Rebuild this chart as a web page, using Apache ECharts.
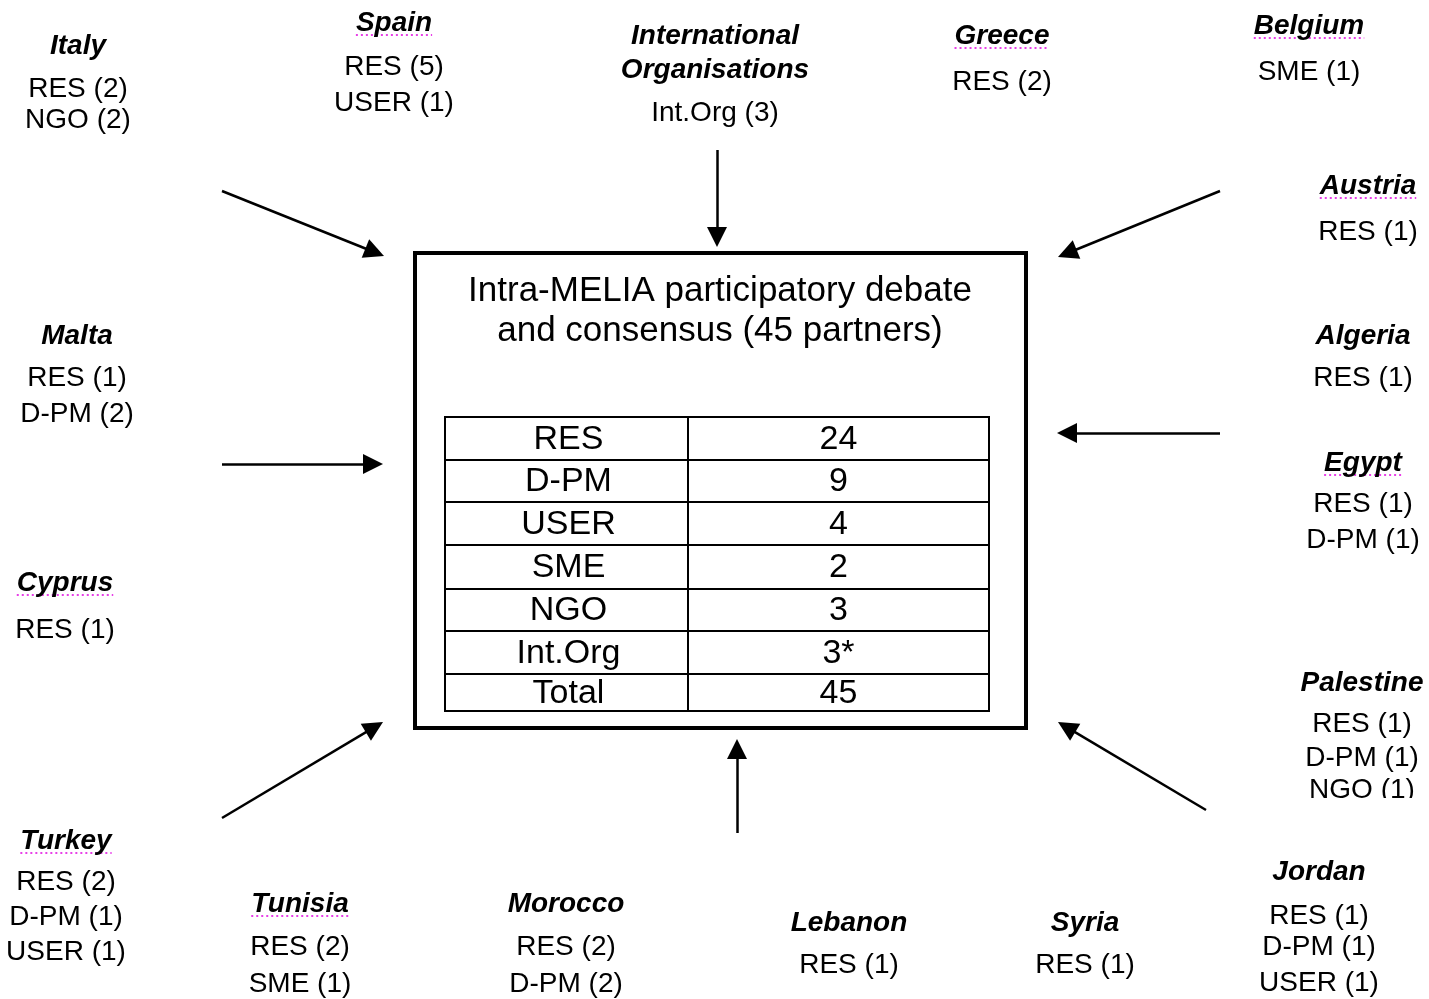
<!DOCTYPE html>
<html><head><meta charset="utf-8">
<script src="https://cdn.jsdelivr.net/npm/echarts@6/dist/echarts.min.js"></script>
<style>html,body{margin:0;padding:0;background:#fff}#c{width:1429px;height:999px}</style>
</head><body><div id="c"></div>
<script>
// ---------------- DATA ----------------
const boxTitle = ['Intra-MELIA participatory debate', 'and consensus (45 partners)'];
const tableCategories = ['RES', 'D-PM', 'USER', 'SME', 'NGO', 'Int.Org', 'Total'];
const tableValues = ['24', '9', '4', '2', '3', '3*', '45'];
const countries = ['Italy', 'Spain', 'International\nOrganisations', 'Greece', 'Belgium', 'Austria',
  'Malta', 'Algeria', 'Egypt', 'Cyprus', 'Palestine', 'Turkey', 'Tunisia', 'Morocco', 'Lebanon', 'Syria', 'Jordan'];
const partners = [
  ['RES (2)', 'NGO (2)'],
  ['RES (5)', 'USER (1)'],
  ['Int.Org (3)'],
  ['RES (2)'],
  ['SME (1)'],
  ['RES (1)'],
  ['RES (1)', 'D-PM (2)'],
  ['RES (1)'],
  ['RES (1)', 'D-PM (1)'],
  ['RES (1)'],
  ['RES (1)', 'D-PM (1)', 'NGO (1)'],
  ['RES (2)', 'D-PM (1)', 'USER (1)'],
  ['RES (2)', 'SME (1)'],
  ['RES (2)', 'D-PM (2)'],
  ['RES (1)'],
  ['RES (1)'],
  ['RES (1)', 'D-PM (1)', 'USER (1)']
];

// ---------------- LAYOUT (positions only) ----------------
const countryLayout = [
  {x: 78, name: [46], lines: [89, 120]},
  {x: 394, name: [23], lines: [67, 103], ul: true},
  {x: 715, name: [36, 70], lines: [113]},
  {x: 1002, name: [36], lines: [82], ul: true},
  {x: 1309, name: [26], lines: [72], ul: true},
  {x: 1368, name: [186], lines: [232], ul: true},
  {x: 77, name: [336], lines: [378, 414]},
  {x: 1363, name: [336], lines: [378]},
  {x: 1363, name: [463], lines: [504, 540], ul: true},
  {x: 65, name: [583], lines: [630], ul: true},
  {x: 1362, name: [683], lines: [724, 758, 790]},
  {x: 66, name: [841], lines: [882, 917, 952], ul: true},
  {x: 300, name: [904], lines: [947, 984], ul: true},
  {x: 566, name: [904], lines: [947, 984]},
  {x: 849, name: [923], lines: [965]},
  {x: 1085, name: [923], lines: [965]},
  {x: 1319, name: [872], lines: [916, 947, 983]}
];
const arrowLayout = [
  [[222, 191], [384, 256]],
  [[717, 150], [717, 247]],
  [[1220, 191], [1058, 257]],
  [[222, 464], [383, 464]],
  [[1220, 433], [1057, 433]],
  [[222, 818], [383, 722]],
  [[737, 833], [737, 739]],
  [[1206, 810], [1058, 722]]
];
const boxRect = {x0: 415, y0: 253, x1: 1026, y1: 728};
const titleLayout = {x: 720, y: [291, 331]};
const tableCols = [445, 688, 989];
const tableRows = [417, 460, 502, 545, 589, 631, 674, 711];
const clipBand = {x0: 1290, y0: 798, x1: 1429, y1: 808};

const FAMILY = '"Liberation Sans", Arial, sans-serif';
const NAME_FONT = 'italic bold 28px ' + FAMILY;
const BODY_FONT = '28px ' + FAMILY;
const TITLE_FONT = '35px ' + FAMILY;
const TABLE_FONT = '34px ' + FAMILY;
const HEAD = 20;

// ---------------- BUILD ----------------
const textData = [], ulData = [];
const measureCtx = document.createElement('canvas').getContext('2d');
measureCtx.font = NAME_FONT;
countries.forEach((c, i) => {
  const L = countryLayout[i];
  c.split('\n').forEach((p, k) => {
    textData.push([L.x, L.name[k], p, NAME_FONT]);
    if (L.ul) {
      const w = measureCtx.measureText(p).width;
      ulData.push({coords: [[L.x - w / 2, L.name[k] + 12], [L.x + w / 2, L.name[k] + 12]]});
    }
  });
  partners[i].forEach((p, k) => textData.push([L.x, L.lines[k], p, BODY_FONT]));
});
boxTitle.forEach((t, k) => textData.push([titleLayout.x, titleLayout.y[k], t, TITLE_FONT]));
const arrowData = arrowLayout.map(([s, t]) => {
  const dx = t[0] - s[0], dy = t[1] - s[1];
  const len = Math.hypot(dx, dy);
  return {coords: [s, [t[0] - dx / len * HEAD / 2, t[1] - dy / len * HEAD / 2]]};
});

const chart = echarts.init(document.getElementById('c'), null, {renderer: 'canvas'});

chart.setOption({
  animation: false,
  backgroundColor: '#fff',
  grid: {left: 0, right: 0, top: 0, bottom: 0},
  xAxis: {type: 'value', min: 0, max: 1429, show: false},
  yAxis: {type: 'value', min: 0, max: 999, inverse: true, show: false},
  series: [
    {
      type: 'custom', silent: true, data: [[0]],
      renderItem(params, api) {
        const a = api.coord([boxRect.x0, boxRect.y0]);
        const b = api.coord([boxRect.x1, boxRect.y1]);
        return {type: 'rect', shape: {x: a[0], y: a[1], width: b[0] - a[0], height: b[1] - a[1]},
          style: {fill: null, stroke: '#000', lineWidth: 4}};
      }
    },
    {
      type: 'custom', silent: true,
      data: tableCategories.map((c, i) => [i]),
      renderItem(params, api) {
        const i = api.value(0);
        const a = api.coord([tableCols[0], tableRows[i]]);
        const m = api.coord([tableCols[1], tableRows[i + 1]]);
        const b = api.coord([tableCols[2], tableRows[i + 1]]);
        const cy = (a[1] + m[1]) / 2;
        return {type: 'group', children: [
          {type: 'rect', shape: {x: a[0], y: a[1], width: m[0] - a[0], height: m[1] - a[1]},
            style: {fill: null, stroke: '#000', lineWidth: 2}},
          {type: 'rect', shape: {x: m[0], y: a[1], width: b[0] - m[0], height: m[1] - a[1]},
            style: {fill: null, stroke: '#000', lineWidth: 2}},
          {type: 'text', style: {text: tableCategories[i], x: (a[0] + m[0]) / 2 + 2, y: cy + 1,
            align: 'center', verticalAlign: 'middle', font: TABLE_FONT, fill: '#000'}},
          {type: 'text', style: {text: tableValues[i], x: (m[0] + b[0]) / 2, y: cy + 1,
            align: 'center', verticalAlign: 'middle', font: TABLE_FONT, fill: '#000'}}
        ]};
      }
    },
    {
      type: 'lines', coordinateSystem: 'cartesian2d', silent: true, data: arrowData,
      symbol: ['none', 'triangle'], symbolSize: HEAD,
      lineStyle: {color: '#000', width: 2.5, opacity: 1},
      itemStyle: {color: '#000'}
    },
    {
      type: 'lines', coordinateSystem: 'cartesian2d', silent: true, data: ulData,
      symbol: ['none', 'none'],
      lineStyle: {color: '#e000e0', width: 1.5, type: [2, 3], opacity: 1}
    },
    {
      type: 'custom', silent: true,
      data: textData.map((d, i) => [d[0], d[1], i]),
      renderItem(params, api) {
        const d = textData[api.value(2)];
        const p = api.coord([api.value(0), api.value(1)]);
        return {type: 'text', style: {text: d[2], x: p[0], y: p[1], align: 'center',
          verticalAlign: 'middle', font: d[3], fill: '#000'}};
      }
    },
    {
      // the reference image crops the last Palestine line at this band
      type: 'custom', silent: true, data: [[0]], z: 10,
      renderItem(params, api) {
        const a = api.coord([clipBand.x0, clipBand.y0]);
        const b = api.coord([clipBand.x1, clipBand.y1]);
        return {type: 'rect', shape: {x: a[0], y: a[1], width: b[0] - a[0], height: b[1] - a[1]},
          style: {fill: '#fff'}};
      }
    }
  ]
});
</script></body></html>
